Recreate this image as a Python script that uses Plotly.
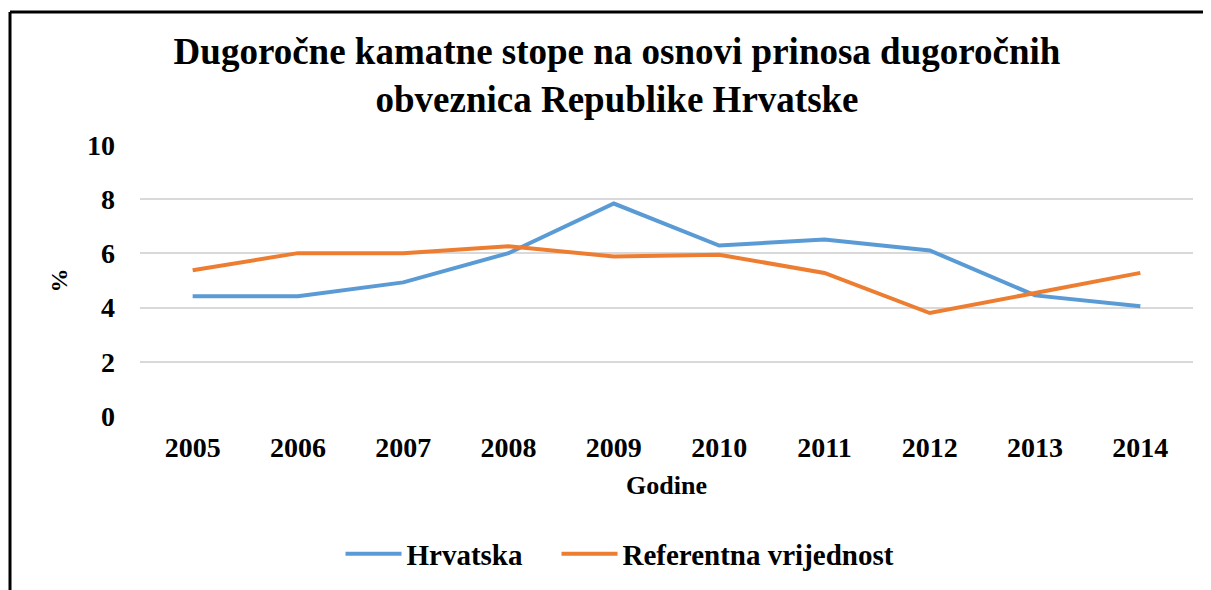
import plotly.graph_objects as go

years = ["2005", "2006", "2007", "2008", "2009", "2010", "2011", "2012", "2013", "2014"]
hrvatska = [4.42, 4.42, 4.93, 6.01, 7.84, 6.29, 6.51, 6.11, 4.45, 4.05]
referentna = [5.38, 6.01, 6.01, 6.26, 5.89, 5.95, 5.28, 3.80, 4.54, 5.28]

font_serif = "Liberation Serif, Times New Roman, serif"

fig = go.Figure()
fig.add_trace(go.Scatter(
    x=years, y=hrvatska, mode="lines",
    name="<b>Hrvatska</b>&nbsp;&nbsp;&nbsp;&nbsp;",
    line=dict(color="#5B9BD5", width=4),
))
fig.add_trace(go.Scatter(
    x=years, y=referentna, mode="lines",
    name="<b>Referentna vrijednost</b>",
    line=dict(color="#ED7D31", width=4),
))

# page body adds an 8px offset, so the figure is sized to end at the window edge
W, H = 1203, 582
L, R, T, B = 132, 18, 137, 174
pw, ph = W - L - R, H - T - B
bx = (2 - L) / pw
by = (H - B - 4) / ph
# chart box frame (only left and top edges fall inside the picture)
fig.add_shape(type="line", xref="paper", yref="paper", x0=bx, x1=bx, y0=by, y1=-1,
              line=dict(color="black", width=3))
fig.add_shape(type="line", xref="paper", yref="paper", x0=bx, x1=1.2, y0=by, y1=by,
              line=dict(color="black", width=3))

fig.update_layout(
    width=W, height=H,
    margin=dict(l=L, r=R, t=T, b=B),
    paper_bgcolor="white", plot_bgcolor="white",
    font=dict(family=font_serif, color="black"),
    title=dict(
        text="<b>Dugoročne kamatne stope na osnovi prinosa dugoročnih<br>obveznica Republike Hrvatske</b>",
        font=dict(size=37, family=font_serif, color="black"),
        x=609 / W, xanchor="center", xref="container",
        y=1 - 56 / H, yanchor="top", yref="container",
    ),
    xaxis=dict(
        type="category", range=[-0.5, 9.5],
        showgrid=False, zeroline=False, showline=False, ticks="",
        tickfont=dict(size=28, family=font_serif),
        tickprefix="<b>", ticksuffix="</b>",
        ticklabelstandoff=12,
        title=dict(text="<b>Godine</b>", font=dict(size=26, family=font_serif), standoff=13),
    ),
    yaxis=dict(
        range=[0, 10], dtick=2, tick0=0,
        showgrid=True, gridcolor="#D9D9D9", gridwidth=1.5,
        zeroline=False, showline=False, ticks="",
        tickfont=dict(size=28, family=font_serif),
        tickprefix="<b>", ticksuffix="</b>",
        ticklabelstandoff=24,
        title=dict(text="<b>%</b>", font=dict(size=24, family=font_serif), standoff=12),
    ),
    legend=dict(
        orientation="h", x=612 / W, xref="container", xanchor="center",
        y=1 - 546 / H, yref="container", yanchor="middle",
        font=dict(size=29, family=font_serif),
        itemwidth=56,
    ),
    showlegend=True,
)
fig.write_html("out.html", config={"displayModeBar": False})
